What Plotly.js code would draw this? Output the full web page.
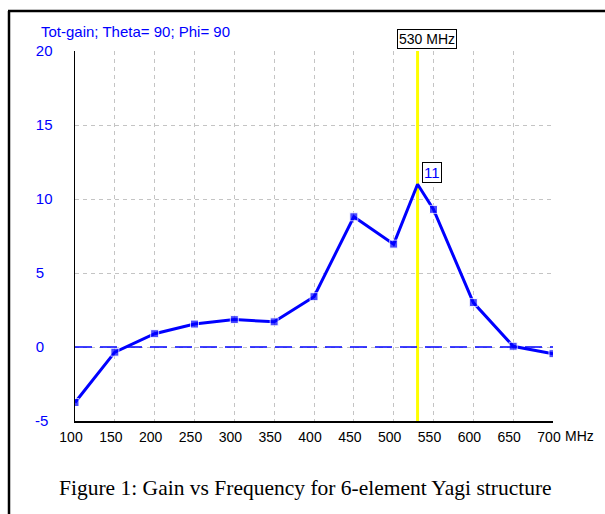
<!DOCTYPE html>
<html>
<head>
<meta charset="utf-8">
<script src="https://cdn.plot.ly/plotly-3.0.1.min.js"></script>
<style>html,body{margin:0;padding:0;background:#fff;}#chart{width:605px;height:514px;}</style>
</head>
<body>
<div id="chart"></div>
<script>
// Data
const freqMHz = [100, 150, 200, 250, 300, 350, 400, 450, 500, 530, 550, 600, 650, 700];
const gainDb  = [-3.75, -0.35, 0.9, 1.55, 1.85, 1.7, 3.4, 8.8, 6.95, 11.0, 9.3, 3.0, 0.05, -0.45];
const markerShown = [1, 1, 1, 1, 1, 1, 1, 1, 1, 0, 1, 1, 1, 1];
const xTicks = [100, 150, 200, 250, 300, 350, 400, 450, 500, 550, 600, 650, 700];
const yTicks = [-5, 0, 5, 10, 15, 20];
const yTickText = ["-5\u00a0", "0\u00a0\u00a0", "5\u00a0\u00a0", "10", "15", "20"];
const cursorFreq = 530;
const cursorGain = 11;
const chartTitle = "Tot-gain; Theta= 90; Phi= 90";
const caption = "Figure 1: Gain vs Frequency for 6-element Yagi structure";

const sans = 'Arial, "Liberation Sans", sans-serif';

const trace = {
  x: freqMHz,
  y: gainDb,
  type: 'scatter',
  mode: 'lines+markers',
  line: {color: '#0000ff', width: 3},
  marker: {symbol: 'square', color: '#0000ff', size: markerShown.map(v => v ? 8 : 0)},
  hoverinfo: 'skip'
};

const gridStyle = {showgrid: true, gridcolor: '#c4c4c4', gridwidth: 1, griddash: '4px,4px'};

const layout = {
  width: 605, height: 514,
  paper_bgcolor: '#ffffff', plot_bgcolor: '#ffffff',
  margin: {l: 75, r: 52, t: 51, b: 93},
  showlegend: false,
  font: {family: sans, size: 13, color: '#000'},
  title: {
    text: chartTitle,
    font: {family: sans, size: 15, color: '#0000ff'},
    xref: 'container', yref: 'container',
    x: 41/605, xanchor: 'left', y: 1 - 32/514, yanchor: 'middle'
  },
  xaxis: Object.assign({
    range: [100, 700], tickvals: xTicks, ticktext: xTicks.map(String),
    showline: true, linecolor: '#000', linewidth: 1.5, mirror: false,
    zeroline: false, ticks: '', ticklabelstandoff: 3, ticklabelshift: -4,
    tickfont: {family: sans, size: 14, color: '#000'}
  }, gridStyle),
  yaxis: Object.assign({
    range: [-5, 20], tickvals: yTicks, ticktext: yTickText,
    showline: true, linecolor: '#000', linewidth: 1.5, mirror: false,
    zeroline: false, ticks: '', ticklabelstandoff: 18,
    tickfont: {family: sans, size: 15, color: '#0000ff'}
  }, gridStyle),
  shapes: [
    // zero reference line
    {type: 'line', xref: 'paper', yref: 'y', x0: 0, x1: 1, y0: 0, y1: 0,
     line: {color: '#0000ff', width: 1.5, dash: '17px,8px'}},
    // cursor line
    {type: 'line', xref: 'x', yref: 'paper', x0: cursorFreq, x1: cursorFreq, y0: 0, y1: 1,
     line: {color: '#ffff00', width: 3}, layer: 'below'},
    // outer frame (top and left)
    {type: 'line', xref: 'paper', yref: 'paper', x0: -67/478, x1: 1.2, y0: 1 + 40/370, y1: 1 + 40/370,
     line: {color: '#000', width: 2.5}},
    {type: 'line', xref: 'paper', yref: 'paper', x0: -66/478, x1: -66/478, y0: 1 + 40/370, y1: -0.3,
     line: {color: '#000', width: 2.5}}
  ],
  annotations: [
    {xref: 'x', yref: 'paper', x: cursorFreq, y: 1, xshift: 9, yshift: 2, yanchor: 'bottom',
     text: cursorFreq + ' MHz', showarrow: false, bgcolor: '#fff', bordercolor: '#000', borderwidth: 1,
     borderpad: 1, font: {family: sans, size: 14, color: '#000'}},
    {xref: 'x', yref: 'y', x: cursorFreq, y: cursorGain, xanchor: 'left', yanchor: 'bottom',
     xshift: 4, yshift: 1, text: String(cursorGain), showarrow: false, bgcolor: '#fff',
     bordercolor: '#000', borderwidth: 1, borderpad: 1,
     font: {family: sans, size: 15, color: '#0000ff'}},
    {xref: 'paper', yref: 'paper', x: 1, y: 0, xanchor: 'left', yanchor: 'top', xshift: 10, yshift: -5,
     text: 'MHz', showarrow: false,
     font: {family: sans, size: 14, color: '#000'}},
    {xref: 'paper', yref: 'paper', x: (305 - 75) / 478, y: (421 - 488) / 370, xanchor: 'center', yanchor: 'middle',
     text: caption, showarrow: false,
     font: {family: '"Times New Roman", "Liberation Serif", serif', size: 21.5, color: '#000'}}
  ]
};

Plotly.newPlot('chart', [trace], layout, {staticPlot: true, displayModeBar: false});
</script>
</body>
</html>
